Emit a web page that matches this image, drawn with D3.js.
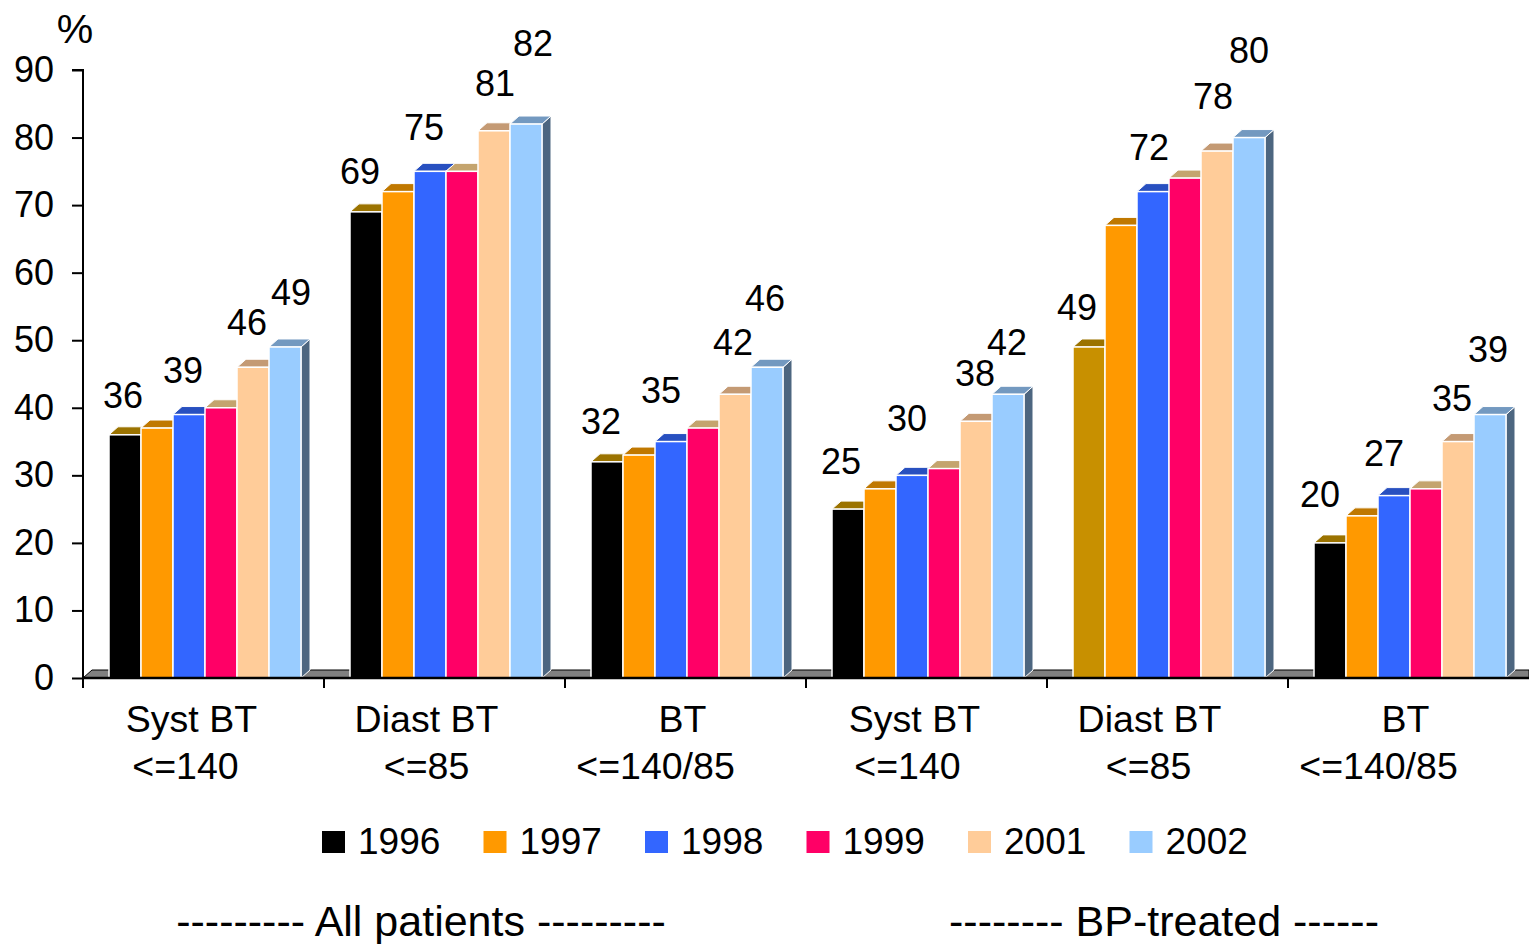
<!DOCTYPE html>
<html>
<head>
<meta charset="utf-8">
<script src="https://cdn.jsdelivr.net/npm/d3@7"></script>
<style>
html,body{margin:0;padding:0;background:#fff;}
svg{display:block;font-family:"Liberation Sans",Arial,sans-serif;}
</style>
</head>
<body>
<svg id="chart" width="1529" height="944"></svg>
<script>
// ---- data ----
const categoriesLine1 = ["Syst BT","Diast BT","BT","Syst BT","Diast BT","BT"];
const categoriesLine2 = ["<=140","<=85","<=140/85","<=140","<=85","<=140/85"];
const years = ["1996","1997","1998","1999","2001","2002"];
const s1996 = [36,69,32,25,49,20];
const s1997 = [37,72,33,28,67,24];
const s1998 = [39,75,35,30,72,27];
const s1999 = [40,75,37,31,74,28];
const s2001 = [46,81,42,38,78,35];
const s2002 = [49,82,46,42,80,39];
const yTicks = [0,10,20,30,40,50,60,70,80,90];
const labelledSeries = [0,2,4,5];
const groupNotes = ["--------- All patients ---------","-------- BP-treated ------"];

// ---- layout / style ----
const series = [s1996,s1997,s1998,s1999,s2001,s2002];
const fills = ["#000000","#FF9900","#3366FF","#FF0066","#FFCC99","#99CCFF"];
const tops  = ["#9B7300","#C07800","#2850C0","#C4A46E","#C49A74","#7399C0"];
const sideColor = "#4D6680";
// special colour of one bar in reference (Diast BT, BP-treated, 1996)
const overrideFill = {"4-0":"#C89000"};
// label offsets (dx, dy from bar top centre) per group, for labelled series
const labelDx = [[-2,-6,-6,6],[-6,-6,1,7],[-6,-10,-2,-2],[-7,-5,-1,-1],[-12,-4,-4,0],[-10,-10,-6,-2]];
const labelDy = [[-40,-44,-45,-55],[-41,-44,-48,-81],[-41,-52,-52,-69],[-48,-57,-48,-52],[-40,-45,-55,-88],[-49,-43,-44,-65]];
const catDx1 = [-12,-18,-3,-12,-18,-3];
const catDx2 = [-18,-18,-30,-19,-19,-30];

const svg = d3.select("#chart");
const x0 = 83, x1 = 1529, yBase = 678, yTop = 70;
const DX = 9, DY = 8;
const FS = 36;

const x = d3.scaleBand().domain(d3.range(6)).range([x0, x1]).paddingInner(0).paddingOuter(0);
const step = x.step();
const xs = d3.scaleBand().domain(d3.range(6)).range([26, 26 + 32*6]).padding(0);
const y = d3.scaleLinear().domain([0,90]).range([yBase, yTop]);

// floor
svg.append("path")
  .attr("d", `M${x0},${yBase} L${x0+DX},${yBase-DY} L${x1},${yBase-DY} L${x1},${yBase} Z`)
  .attr("fill","#808080").attr("stroke","#000").attr("stroke-width",1);

// bars
const bw = xs.bandwidth();
for (let g = 0; g < 6; g++) {
  const gg = svg.append("g");
  for (let i = 0; i < 6; i++) {
    const v = series[i][g];
    const bx = x(g) + xs(i);
    const by = y(v);
    const f = overrideFill[g+"-"+i] || fills[i];
    gg.append("path")
      .attr("d", `M${bx+bw},${yBase} L${bx+bw+DX},${yBase-DY} L${bx+bw+DX},${by-DY} L${bx+bw},${by} Z`)
      .attr("fill", i===5 ? sideColor : d3.color(f).darker(1.2))
      .attr("stroke","#fff").attr("stroke-width",1).attr("stroke-linejoin","round");
    gg.append("path")
      .attr("d", `M${bx},${by} L${bx+DX},${by-DY} L${bx+bw+DX},${by-DY} L${bx+bw},${by} Z`)
      .attr("fill", tops[i])
      .attr("stroke","#fff").attr("stroke-width",1).attr("stroke-linejoin","round");
    gg.append("rect")
      .attr("x", bx).attr("y", by).attr("width", bw).attr("height", yBase - by)
      .attr("fill", f).attr("stroke","#fff").attr("stroke-width",1.5);
  }
}

// value labels
for (let g = 0; g < 6; g++) {
  labelledSeries.forEach((i, k) => {
    const v = series[i][g];
    svg.append("text")
      .attr("x", x(g) + xs(i) + bw/2 + labelDx[g][k])
      .attr("y", y(v) + labelDy[g][k])
      .attr("dy","0.36em")
      .attr("text-anchor","middle")
      .attr("font-size", FS)
      .attr("fill","#000")
      .text(v);
  });
}

// y axis
const yAxis = d3.axisLeft(y).tickValues(yTicks).tickSize(11).tickPadding(18);
const ya = svg.append("g").attr("transform",`translate(${x0},0)`).call(yAxis);
ya.select(".domain").attr("stroke","#000").attr("stroke-width",2).attr("d",`M-11,${yTop}H0V${yBase}`);
ya.selectAll(".tick line").attr("stroke","#000").attr("stroke-width",2);
ya.selectAll(".tick text").attr("font-size",FS).attr("font-family","Liberation Sans, Arial, sans-serif").attr("fill","#000");

// x axis
const xAxisG = svg.append("g").attr("transform",`translate(0,${yBase})`);
xAxisG.append("line").attr("x1",x0).attr("x2",x1).attr("y1",0).attr("y2",0).attr("stroke","#000").attr("stroke-width",2.5);
xAxisG.selectAll("line.tk").data(d3.range(6)).join("line").attr("class","tk")
  .attr("x1",d=>x(d)).attr("x2",d=>x(d)).attr("y1",0).attr("y2",10)
  .attr("stroke","#000").attr("stroke-width",2);

// category labels
d3.range(6).forEach(g => {
  const cx = x(g) + step/2;
  svg.append("text").attr("x", cx + catDx1[g]).attr("y", 732).attr("text-anchor","middle")
    .attr("font-size",37.5).text(categoriesLine1[g]);
  svg.append("text").attr("x", cx + catDx2[g]).attr("y", 779).attr("text-anchor","middle")
    .attr("font-size",37.5).text(categoriesLine2[g]);
});

// % label
svg.append("text").attr("x",75).attr("y",43).attr("text-anchor","middle").attr("font-size",41).text("%");

// legend
const lg = svg.append("g");
years.forEach((yr, i) => {
  const lx = 322 + i*161.5;
  lg.append("rect").attr("x",lx).attr("y",831).attr("width",23).attr("height",22).attr("fill",fills[i]);
  lg.append("text").attr("x",lx+36).attr("y",854).attr("font-size",37).text(yr);
});

// group notes
svg.append("text").attr("x",421).attr("y",936).attr("text-anchor","middle").attr("font-size",43).text(groupNotes[0]);
svg.append("text").attr("x",1164).attr("y",936).attr("text-anchor","middle").attr("font-size",43).text(groupNotes[1]);
</script>
</body>
</html>
